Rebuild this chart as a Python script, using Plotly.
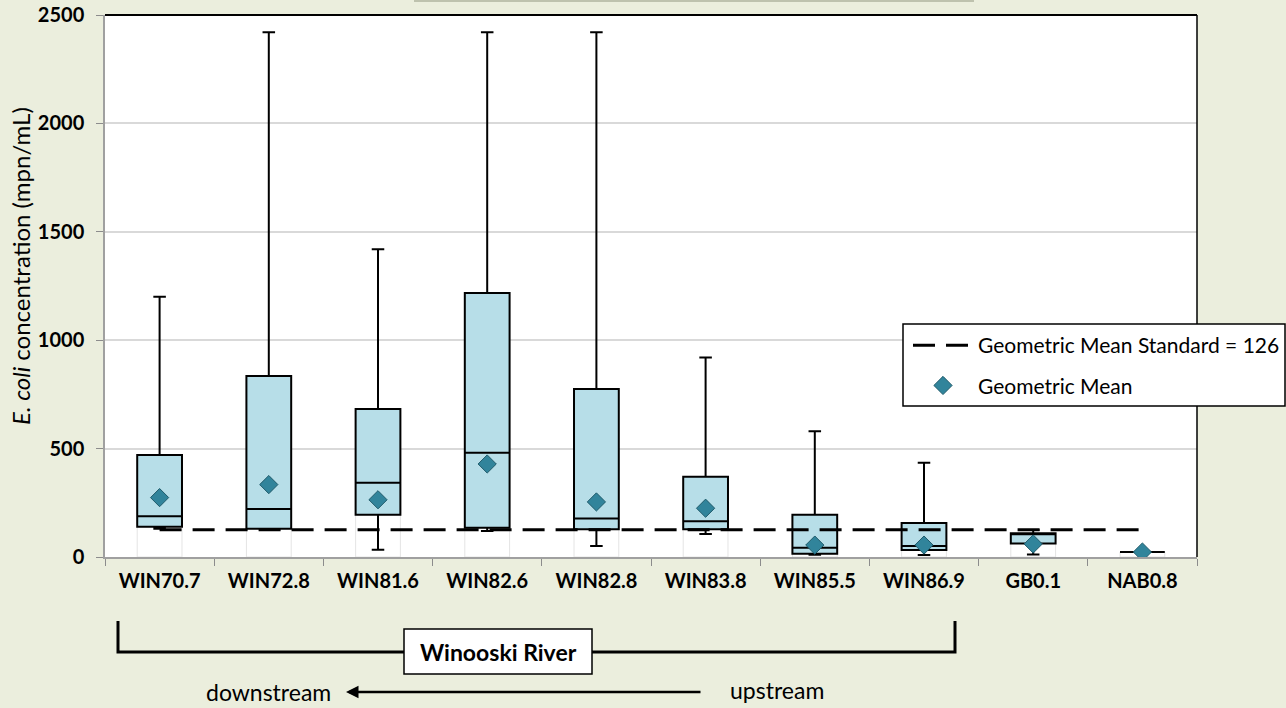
import plotly.graph_objects as go

# ---- data ----
sites = ["WIN70.7", "WIN72.8", "WIN81.6", "WIN82.6", "WIN82.8",
         "WIN83.8", "WIN85.5", "WIN86.9", "GB0.1", "NAB0.8"]
upper = [1200, 2420, 1420, 2420, 2420, 920, 580, 435, 125, 23]
q3 = [470, 835, 683, 1218, 775, 370, 195, 157, 110, 23]
median = [188, 221, 343, 481, 178, 165, 43, 51, 108, 23]
q1 = [140, 130, 195, 135, 128, 128, 15, 32, 62, 23]
lower = [130, 125, 34, 120, 51, 106, 10, 9, 12, 23]
geo_mean = [274, 334, 264, 429, 254, 225, 55, 55, 60, 23]
standard = 126

# ---- layout helpers (pixel -> paper) ----
L, R, T, B = 105, 1197, 15, 557
W, H = R - L, B - T
def px(x):
    return (x - L) / W
def py(y):
    return (B - y) / H

BG = "#EBEEDD"
FONT = "Lato"

fig = go.Figure()

# faint hidden base bars (Excel stacked-bar artefact)
fig.add_trace(go.Bar(
    x=sites, y=q1, width=0.41,
    marker=dict(color="white", line=dict(color="#E4E4E4", width=1)),
    showlegend=False, hoverinfo="skip"))

fig.add_trace(go.Box(
    x=sites, q1=q1, median=median, q3=q3,
    lowerfence=lower, upperfence=upper,
    width=0.41, whiskerwidth=0.28,
    fillcolor="#B7DEE8", line=dict(color="black", width=2),
    boxpoints=False, showlegend=False, hoverinfo="skip"))

fig.add_trace(go.Scatter(
    x=sites, y=[standard] * len(sites), mode="lines",
    name="Geometric Mean Standard = 126", legendgroup="a",
    line=dict(color="black", width=3, dash="22px,11px")))

fig.add_trace(go.Scatter(
    x=sites, y=geo_mean, mode="markers",
    name="Geometric Mean", legendgroup="b",
    marker=dict(symbol="diamond", size=14, color="#31849B",
                line=dict(color="#1F5A6A", width=1))))

shapes = []
# black top and right borders
shapes.append(dict(type="line", xref="paper", yref="paper", x0=0, x1=1, y0=1, y1=1,
                   line=dict(color="black", width=2)))
shapes.append(dict(type="line", xref="paper", yref="paper", x0=1, x1=1, y0=0, y1=1,
                   line=dict(color="black", width=1.5)))
# cut-off title box edge at very top
shapes.append(dict(type="line", xref="paper", yref="paper", x0=px(414), x1=px(974),
                   y0=py(1), y1=py(1), line=dict(color="#BEC2AE", width=2)))
# legend frame
shapes.append(dict(type="rect", xref="paper", yref="paper", layer="above",
                   x0=px(903), x1=px(1285), y0=py(406), y1=py(324),
                   fillcolor="white", line=dict(color="black", width=1.5)))
# bracket
shapes.append(dict(type="path", xref="paper", yref="paper",
                   path=f"M {px(118)},{py(621)} L {px(118)},{py(652)} L {px(955)},{py(652)} L {px(955)},{py(621)}",
                   line=dict(color="black", width=3)))
# Winooski River box
shapes.append(dict(type="rect", xref="paper", yref="paper",
                   x0=px(404), x1=px(592), y0=py(674), y1=py(629),
                   fillcolor="white", line=dict(color="black", width=1.5)))

def note(text, x, y, size, bold=False, angle=0):
    f = dict(family=FONT, size=size, color="black")
    if bold:
        f["weight"] = "bold"
    return dict(text=text, xref="paper", yref="paper", x=px(x), y=py(y),
                xanchor="center", yanchor="middle", textangle=angle,
                showarrow=False, font=f)

annotations = [
    note("Winooski River", 498, 652, 23, bold=True),
    note("downstream", 268, 692, 23),
    note("upstream", 777, 690, 23),
    note("<i>E. coli</i> concentration (mpn/mL)", 20, 266, 24, angle=-90),
    dict(text="", xref="paper", yref="paper", x=px(346), y=py(692),
         ax=702 - 346, ay=0, axref="pixel", ayref="pixel",
         showarrow=True, arrowhead=2, arrowsize=1, arrowwidth=2.5, arrowcolor="black"),
]

fig.update_layout(
    width=1286, height=708,
    margin=dict(l=L, r=1286 - R, t=T, b=708 - B, autoexpand=False),
    paper_bgcolor=BG, plot_bgcolor="white",
    font=dict(family=FONT, color="black"),
    shapes=shapes, annotations=annotations,
    legend=dict(x=px(908), y=py(325), xanchor="left", yanchor="top",
                bgcolor="rgba(0,0,0,0)", borderwidth=0, itemwidth=60,
                font=dict(family=FONT, size=21, color="black"),
                traceorder="grouped", tracegroupgap=10),
    xaxis=dict(type="category", tickson="boundaries", ticks="outside", ticklen=7,
               range=[-0.5, len(sites) - 0.5],
               tickcolor="#8C8C8C", showline=True, linecolor="#A0A0A0", linewidth=1.5,
               showgrid=False, automargin=False, ticklabelstandoff=5,
               tickfont=dict(family=FONT, size=20, color="black", weight="bold")),
    yaxis=dict(range=[0, 2500], dtick=500, ticks="outside", ticklen=7,
               tickcolor="#8C8C8C", showline=True, linecolor="#A0A0A0", linewidth=1.5,
               gridcolor="#D9D9D9", gridwidth=1.5, zeroline=False, automargin=False,
               ticklabelstandoff=8,
               tickfont=dict(family=FONT, size=20, color="black", weight="bold")),
    showlegend=True,
)

fig.write_html("out.html", config={"displayModeBar": False},
               post_script="document.body.style.margin='0px';")
